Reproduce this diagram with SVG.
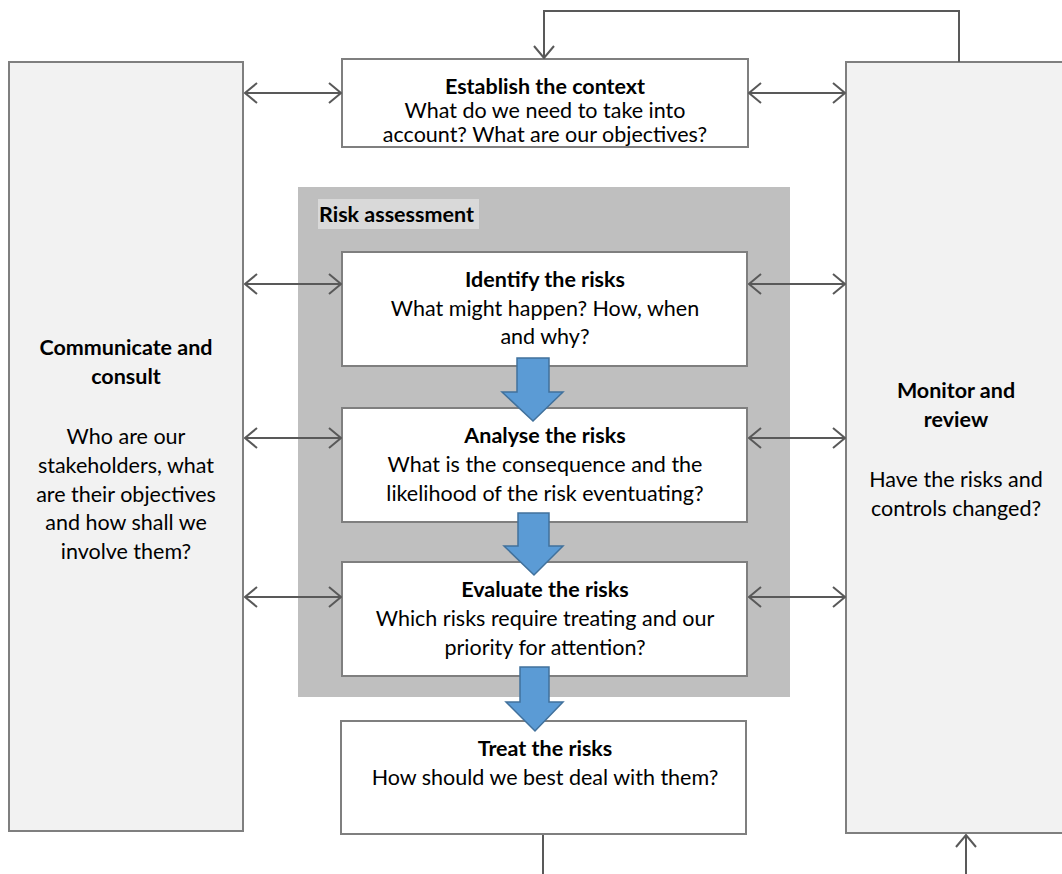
<svg xmlns="http://www.w3.org/2000/svg" width="1062" height="874" viewBox="0 0 1062 874">
<style>
.box{fill:#ffffff;stroke:#7f7f7f;stroke-width:2}
.side{fill:#f2f2f2;stroke:#7f7f7f;stroke-width:2}
.t{font-family:Lato,"Liberation Sans",sans-serif;font-size:21.5px;fill:#000;text-anchor:middle}
.b{font-weight:bold}
.c{fill:none;stroke:#595959;stroke-width:2}
.blue{fill:#5b9bd5;stroke:#41719c;stroke-width:1.5}
</style>
<defs>
<marker id="ah" markerUnits="userSpaceOnUse" viewBox="0 0 14 22" refX="13" refY="11" markerWidth="14" markerHeight="22" orient="auto-start-reverse">
<path d="M1,1 L13,11 L1,21" fill="none" stroke="#595959" stroke-width="2"/>
</marker>
</defs>
<g id="left">
<rect class="side" x="9" y="62" width="234" height="769"/>
<text class="t b" x="126" y="355">Communicate and</text>
<text class="t b" x="126" y="384">consult</text>
<text class="t" x="126" y="444">Who are our</text>
<text class="t" x="126" y="473">stakeholders, what</text>
<text class="t" x="126" y="502">are their objectives</text>
<text class="t" x="126" y="530">and how shall we</text>
<text class="t" x="126" y="559">involve them?</text>
</g>
<g id="right">
<rect class="side" x="846" y="62" width="230" height="771"/>
<text class="t b" x="956" y="398">Monitor and</text>
<text class="t b" x="956" y="427">review</text>
<text class="t" x="956" y="487">Have the risks and</text>
<text class="t" x="956" y="516">controls changed?</text>
</g>
<g id="assessment">
<rect x="298" y="187" width="492" height="510" fill="#bfbfbf"/>
<rect x="318" y="199" width="161" height="30" fill="#d9d9d9"/>
<text class="t b" x="319" y="222" style="text-anchor:start">Risk assessment</text>
</g>
<g id="establish">
<rect class="box" x="342" y="59" width="406" height="88"/>
<text class="t b" x="545" y="94">Establish the context</text>
<text class="t" x="545" y="118">What do we need to take into</text>
<text class="t" x="545" y="142">account? What are our objectives?</text>
</g>
<g id="identify">
<rect class="box" x="342" y="252" width="405" height="114"/>
<text class="t b" x="545" y="287">Identify the risks</text>
<text class="t" x="545" y="316">What might happen? How, when</text>
<text class="t" x="545" y="344">and why?</text>
</g>
<g id="analyse">
<rect class="box" x="342" y="408" width="405" height="114"/>
<text class="t b" x="545" y="443">Analyse the risks</text>
<text class="t" x="545" y="472">What is the consequence and the</text>
<text class="t" x="545" y="501">likelihood of the risk eventuating?</text>
</g>
<g id="evaluate">
<rect class="box" x="342" y="562" width="405" height="114"/>
<text class="t b" x="545" y="597">Evaluate the risks</text>
<text class="t" x="545" y="626">Which risks require treating and our</text>
<text class="t" x="545" y="655">priority for attention?</text>
</g>
<g id="treat">
<rect class="box" x="341" y="721" width="405" height="113"/>
<text class="t b" x="545" y="756">Treat the risks</text>
<text class="t" x="545" y="785">How should we best deal with them?</text>
</g>
<g id="connectors">
<line class="c" x1="245" y1="93" x2="341" y2="93" marker-start="url(#ah)" marker-end="url(#ah)"/>
<line class="c" x1="749" y1="93" x2="845" y2="93" marker-start="url(#ah)" marker-end="url(#ah)"/>
<line class="c" x1="245" y1="284" x2="341" y2="284" marker-start="url(#ah)" marker-end="url(#ah)"/>
<line class="c" x1="749" y1="284" x2="845" y2="284" marker-start="url(#ah)" marker-end="url(#ah)"/>
<line class="c" x1="245" y1="438" x2="341" y2="438" marker-start="url(#ah)" marker-end="url(#ah)"/>
<line class="c" x1="749" y1="438" x2="845" y2="438" marker-start="url(#ah)" marker-end="url(#ah)"/>
<line class="c" x1="245" y1="597" x2="341" y2="597" marker-start="url(#ah)" marker-end="url(#ah)"/>
<line class="c" x1="749" y1="597" x2="845" y2="597" marker-start="url(#ah)" marker-end="url(#ah)"/>
<path class="c" d="M959,62 V11 H544 V58" marker-end="url(#ah)"/>
<line class="c" x1="543" y1="835" x2="543" y2="874"/>
<line class="c" x1="966" y1="874" x2="966" y2="835" marker-end="url(#ah)"/>
<polygon class="blue" points="517,358 549,358 549,392 563,392 533,421 502,392 517,392"/>
<polygon class="blue" points="518,513 549,513 549,546 563,546 534,575 504,546 518,546"/>
<polygon class="blue" points="520,667 549,667 549,702 563,702 535,731 506,702 520,702"/>
</g>
</svg>
